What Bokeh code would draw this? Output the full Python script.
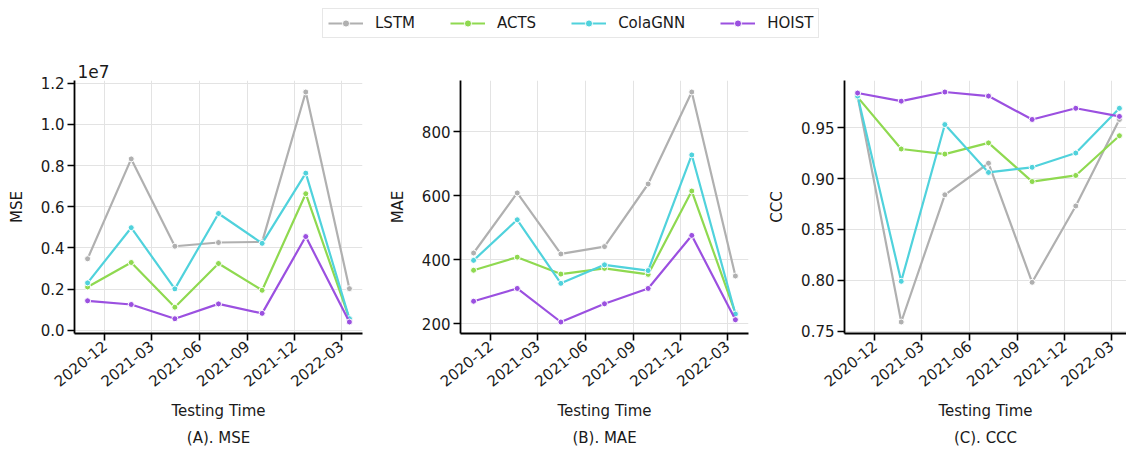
import math
import pandas as pd
from bokeh.plotting import figure
from bokeh.layouts import column, row
from bokeh.models import (Range1d, MonthsTicker, DatetimeTickFormatter, FixedTicker,
                          CustomJSTickFormatter, NumeralTickFormatter, Title, Legend, LegendItem)
from bokeh.embed import file_html
from bokeh.resources import INLINE

# ---------------- data ----------------
test_dates = ["2020-10-29", "2021-01-21", "2021-04-15", "2021-07-08",
              "2021-09-30", "2021-12-23", "2022-03-17"]
models = ["LSTM", "ACTS", "ColaGNN", "HOIST"]
colors = ["#b0b0b0", "#8fd950", "#50d2dc", "#9b50e0"]

mse_lstm = [3.47e6, 8.32e6, 4.08e6, 4.26e6, 4.29e6, 11.57e6, 2.02e6]
mse_acts = [2.10e6, 3.29e6, 1.12e6, 3.24e6, 1.94e6, 6.63e6, 0.56e6]
mse_colagnn = [2.30e6, 4.98e6, 2.01e6, 5.67e6, 4.22e6, 7.63e6, 0.56e6]
mse_hoist = [1.43e6, 1.25e6, 0.56e6, 1.28e6, 0.82e6, 4.55e6, 0.40e6]

mae_lstm = [421, 609, 418, 441, 637, 925, 349]
mae_acts = [367, 408, 355, 373, 354, 615, 233]
mae_colagnn = [398, 525, 326, 384, 366, 728, 230]
mae_hoist = [270, 310, 205, 262, 310, 476, 212]

ccc_lstm = [0.981, 0.759, 0.884, 0.915, 0.798, 0.873, 0.958]
ccc_acts = [0.980, 0.929, 0.924, 0.935, 0.897, 0.903, 0.942]
ccc_colagnn = [0.981, 0.799, 0.953, 0.906, 0.911, 0.925, 0.969]
ccc_hoist = [0.984, 0.976, 0.985, 0.981, 0.958, 0.969, 0.961]

mse_ticks = [0, 2e6, 4e6, 6e6, 8e6, 10e6, 12e6]
mae_ticks = [200, 400, 600, 800]
ccc_ticks = [0.75, 0.80, 0.85, 0.90, 0.95]

FONT = "DejaVu Sans"
FS = "15px"
TXT = "#1a1a1a"
dates = pd.to_datetime(test_dates)
t0 = dates[0].value / 1e6
t1 = dates[-1].value / 1e6
span = t1 - t0
XMIN = t0 - 0.05 * span
XMAX = t1 + 0.05 * span


def make_panel(series, ylabel, yticks, yformatter, width, bl, br, xfrac, caption, top_title=None):
    allv = [v for s in series for v in s]
    lo, hi = min(allv), max(allv)
    m = 0.05 * (hi - lo)
    p = figure(width=width, height=405, x_axis_type="datetime",
               output_backend="svg", toolbar_location=None,
               x_range=Range1d(XMIN, XMIN + (XMAX - XMIN) * xfrac),
               y_range=Range1d(lo - m, hi + m),
               min_border_left=bl, min_border_right=br,
               min_border_top=35, min_border_bottom=117)
    if top_title is not None:
        p.title.text = top_title
        p.title.text_font = FONT
        p.title.text_font_size = "17px"
        p.title.text_font_style = "normal"
        p.title.text_color = TXT
        p.title.align = "left"
        p.title.offset = 3
        p.title.standoff = 6
    p.outline_line_color = None
    p.background_fill_color = "white"
    p.border_fill_color = "white"
    for g in (p.xgrid, p.ygrid):
        g.grid_line_color = "#e3e3e3"
        g.grid_line_width = 1
    p.xaxis.ticker = MonthsTicker(months=[2, 5, 8, 11])
    p.xgrid.ticker = p.xaxis.ticker
    p.xaxis.formatter = DatetimeTickFormatter(months="%Y-%m", days="%Y-%m", years="%Y-%m")
    p.xaxis.major_label_orientation = 0.68
    p.yaxis.ticker = FixedTicker(ticks=yticks)
    p.yaxis.formatter = yformatter
    for ax in (p.xaxis, p.yaxis):
        ax.axis_line_color = "black"
        ax.axis_line_width = 1.8
        ax.major_tick_line_color = "black"
        ax.major_tick_line_width = 1.6
        ax.major_tick_out = 7
        ax.major_tick_in = 0
        ax.minor_tick_line_color = None
        ax.major_label_text_font = FONT
        ax.major_label_text_font_size = FS
        ax.major_label_text_color = TXT
        ax.axis_label_text_font = FONT
        ax.axis_label_text_font_size = FS
        ax.axis_label_text_font_style = "normal"
        ax.axis_label_text_color = TXT
    p.xaxis.axis_label = "Testing Time"
    p.xaxis.axis_label_standoff = 7
    p.xaxis.major_label_standoff = 3
    p.yaxis.axis_label = ylabel
    p.yaxis.axis_label_standoff = 12
    p.yaxis.major_label_standoff = 3
    for s, c in zip(series, colors):
        p.line(dates, s, line_color=c, line_width=2.2)
        p.scatter(dates, s, size=6, fill_color=c, line_color="white", line_width=1)
    cap = Title(text=caption, align="center", text_font=FONT, text_font_size=FS,
                text_font_style="normal", text_color=TXT, standoff=6)
    p.add_layout(cap, "below")
    return p


pA = make_panel([mse_lstm, mse_acts, mse_colagnn, mse_hoist], "MSE", mse_ticks,
                CustomJSTickFormatter(code="return (tick/1e7).toFixed(1);"),
                375, 74, 13, 1.0, "(A). MSE", top_title="1e7")
pB = make_panel([mae_lstm, mae_acts, mae_colagnn, mae_hoist], "MAE", mae_ticks,
                NumeralTickFormatter(format="0"),
                380, 85, 7, 1.0, "(B). MAE")
pC = make_panel([ccc_lstm, ccc_acts, ccc_colagnn, ccc_hoist], "CCC", ccc_ticks,
                NumeralTickFormatter(format="0.00"),
                371, 89, 0, 282 / 288, "(C). CCC")

# legend figure (its sample glyphs sit outside the visible range)
pl = figure(width=1126, height=45, output_backend="svg", toolbar_location=None,
            x_range=Range1d(0, 1), y_range=Range1d(0, 1),
            x_axis_location=None, y_axis_location=None,
            min_border=0)
pl.outline_line_color = None
pl.xgrid.visible = False
pl.ygrid.visible = False
items = []
for name, c in zip(models, colors):
    r1 = pl.line([-5, -4], [-5, -4], line_color=c, line_width=2.2)
    r2 = pl.scatter([-5], [-5], size=6, fill_color=c, line_color="white", line_width=1)
    items.append(LegendItem(label=name, renderers=[r1, r2]))
leg = Legend(items=items, orientation="horizontal", location=(322, 7),
             label_text_font=FONT, label_text_font_size=FS, label_text_color=TXT,
             glyph_width=35, glyph_height=18, label_standoff=12, spacing=35,
             padding=5, margin=0, border_line_color="#cfcfcf", border_line_width=1.5,
             background_fill_alpha=1.0)
pl.add_layout(leg, "center")

layout = column(pl, row(pA, pB, pC, spacing=0), spacing=0)
open("out.html", "w").write(file_html(layout, INLINE))
